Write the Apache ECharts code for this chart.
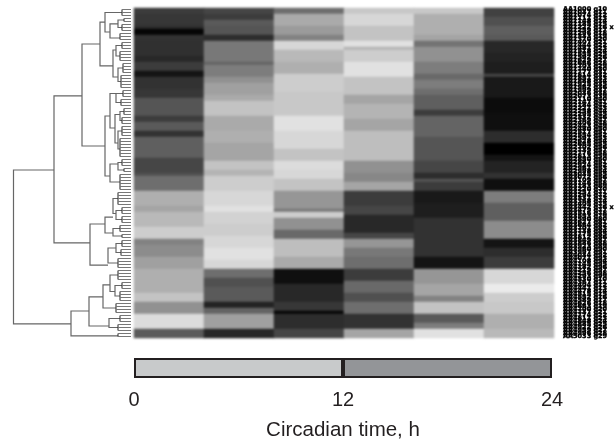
<!DOCTYPE html>
<html><head><meta charset="utf-8">
<style>html,body{margin:0;padding:0;background:#fff}#c{width:616px;height:441px}</style>
<script src="https://cdn.jsdelivr.net/npm/echarts@6/dist/echarts.min.js"></script>
</head><body><div id="c"></div>
<script>
// Heatmap bands: [number of rows, grey level 0-255], one list per time column
const col1 = [[2,60],[4,55],[1,45],[2,5],[2,50],[5,48],[2,40],[3,60],[2,20],[4,50],[3,55],[6,85],[2,60],[3,90],[2,50],[7,95],[5,70],[1,80],[5,110],[5,175],[2,165],[5,185],[4,205],[2,130],[4,140],[4,160],[8,175],[3,195],[4,145],[5,220],[3,90]];
const col2 = [[2,70],[2,60],[2,90],[3,85],[2,45],[7,120],[1,100],[4,125],[2,145],[4,160],[2,170],[5,195],[5,170],[4,175],[6,165],[3,195],[2,180],[5,205],[5,215],[2,225],[4,210],[4,205],[4,215],[4,225],[3,215],[3,110],[3,80],[5,90],[2,35],[2,100],[5,160],[3,40]];
const col3 = [[2,110],[4,170],[3,155],[2,130],[3,215],[4,185],[4,175],[6,205],[8,200],[5,225],[6,215],[4,195],[3,220],[3,215],[4,195],[6,150],[1,120],[2,205],[4,145],[3,105],[6,190],[4,170],[5,15],[6,40],[3,55],[1,5],[5,45],[3,70]];
const col4 = [[2,200],[4,215],[5,195],[2,225],[1,180],[4,205],[5,225],[6,195],[3,165],[5,180],[4,165],[10,190],[4,145],[3,135],[3,165],[5,60],[3,70],[6,40],[2,70],[3,150],[3,120],[4,110],[4,60],[4,105],[3,80],[4,110],[5,50],[3,165]];
const col5 = [[2,200],[7,175],[2,165],[2,115],[5,145],[4,125],[2,105],[3,125],[2,110],[5,95],[2,60],[7,100],[8,85],[4,70],[2,45],[1,85],[3,60],[4,25],[5,30],[7,50],[6,50],[4,20],[5,150],[4,165],[2,130],[4,195],[3,90],[2,125],[3,225]];
const col6 = [[3,65],[3,80],[3,95],[2,90],[4,40],[3,35],[4,30],[1,70],[7,25],[5,12],[6,15],[4,45],[4,0],[2,20],[4,35],[2,50],[4,15],[4,125],[6,95],[6,140],[3,20],[3,45],[4,60],[5,215],[3,235],[3,205],[4,200],[5,175],[3,185]];
const columnBands = [col1,col2,col3,col4,col5,col6];
const timeColumns = ['CT2','CT6','CT10','CT14','CT18','CT22'];
// Dendrogram merges: [merge height, row A, child height A, row B, child height B]
const merges = [
 [13.5,54,54,105.3,71],[54,29.3,82,78.3,90],[82,12,100,46,105],[100,4.7,105,19.3,113],
 [105,1.5,122,8,110],[110,5.3,118,10,120],[118,4,124,6.5,122],
 [113,14,116,23,118],[116,12.5,122,16,120],[118,20,123,24.5,121],
 [105,36,110,56,110],[110,28.5,116,40,115],[116,28.5,123,31.5,121],[115,35.5,120,45,118],[120,34.5,124,37.5,122],[118,41,122,47,120],
 [110,52,118,58,120],[118,51.5,122,54,124],
 [90,72,105,85.7,108],[105,69.7,113,75,113],[113,63.5,118,68.5,116],[116,67.5,122,70.5,122],[113,73.5,120,76,122],
 [108,80,116,85,118],[116,78.5,122,81.5,121],
 [71,101,89,109.3,118],[89,96.3,103,106,109],[103,92.3,110,100,116],[110,89,118,94.5,115],[115,92.5,122,96,120],[109,103.5,120,106.5,118]
];
// Leaf groups: [spine height, first row, end row]
const leafGroups = [[122,0,3],[124,3,5],[122,5,8],[120,8,11],[122,11,14],[120,14,18],[123,18,22],[121,22,27],[123,27,30],[121,30,33],[124,33,36],[122,36,39],[122,39,43],[120,43,50],[122,50,53],[124,53,55],[120,55,61],[118,61,66],[122,66,69],[122,69,72],[120,72,75],[122,75,77],[122,77,80],[121,80,83],[118,83,87],[118,87,91],[122,91,94],[120,94,98],[116,98,102],[120,102,105],[118,105,108],[118,108,110]];
const leafEnd = 131;
// Gene labels on the right are illegible in the reference: placeholders
const geneLabels = Array.from({length:110},(_,i)=>'AA'+(1000+i*37)+' g'+(10+i%90)+(i===6||i===66?' x':''));
// Lighting bar
const lightPhase = [12];
const darkPhase = [12];
const hourTicks = [0,12,24];
const xTitle = 'Circadian time, h';

const cells = [];
columnBands.forEach((bands,c)=>{let r=0;bands.forEach(([n,v])=>{for(let k=0;k<n;k++){cells.push([c,r,v]);r++;}});});

const chart = echarts.init(document.getElementById('c'),null,{renderer:'canvas'});
const LINE = '#666666';
chart.setOption({
 animation:false,
 textStyle:{fontFamily:'"Liberation Sans",Arial,sans-serif'},
 visualMap:{show:false,type:'continuous',min:0,max:255,dimension:2,seriesIndex:0,inRange:{color:['#000000','#ffffff']}},
 grid:[
  {left:134,top:8,width:420,height:330,outerBoundsMode:'none'},
  {left:0,top:8,width:134,height:330,outerBoundsMode:'none'},
  {left:134,top:358,width:418,height:20,outerBoundsMode:'none'}
 ],
 xAxis:[
  {gridIndex:0,type:'category',data:timeColumns,show:false},
  {gridIndex:1,type:'value',min:0,max:134,show:false},
  {gridIndex:2,type:'value',min:0,max:24,interval:12,
   axisLine:{show:false},axisTick:{show:false},splitLine:{show:false},
   axisLabel:{fontSize:20,color:'#231f20',margin:12,formatter:v=>hourTicks.includes(v)?String(v):''},
   name:xTitle,nameLocation:'middle',nameGap:42,nameTextStyle:{fontSize:20.5,color:'#231f20'}}
 ],
 yAxis:[
  {gridIndex:0,type:'category',data:geneLabels,inverse:true,position:'right',
   axisLine:{show:false},axisTick:{show:false},splitLine:{show:false},
   axisLabel:{show:true,interval:0,fontSize:6.5,fontWeight:'bold',fontFamily:'"DejaVu Sans"',color:'#000',margin:9,align:'left',textBorderColor:'#000',textBorderWidth:0.35}},
  {gridIndex:1,type:'value',min:0,max:110,inverse:true,show:false},
  {gridIndex:2,type:'category',data:['light'],show:false}
 ],
 series:[
  {type:'heatmap',zlevel:1,xAxisIndex:0,yAxisIndex:0,data:cells,itemStyle:{borderWidth:0},emphasis:{disabled:true},progressive:0},
  {type:'custom',zlevel:2,xAxisIndex:1,yAxisIndex:1,data:merges,clip:false,silent:true,
   renderItem:(p,api)=>{
    const a=api.coord([api.value(2),api.value(1)]),b=api.coord([api.value(0),api.value(1)]),
          c=api.coord([api.value(0),api.value(3)]),d=api.coord([api.value(4),api.value(3)]);
    return {type:'polyline',shape:{points:[a,b,c,d]},style:{fill:null,stroke:LINE,lineWidth:1.2}};
   }},
  {type:'custom',zlevel:2,xAxisIndex:1,yAxisIndex:1,data:leafGroups,clip:false,silent:true,
   renderItem:(p,api)=>{
    const h=api.value(0),r0=api.value(1),r1=api.value(2),kids=[];
    kids.push({type:'line',shape:{x1:api.coord([h,r0+.5])[0],y1:api.coord([h,r0+.5])[1],x2:api.coord([h,r1-.5])[0],y2:api.coord([h,r1-.5])[1]},style:{stroke:'#333',lineWidth:1.1}});
    for(let r=r0;r<r1;r++){const s=api.coord([h,r+.5]),e=api.coord([leafEnd,r+.5]);
     kids.push({type:'line',shape:{x1:s[0],y1:s[1],x2:e[0],y2:e[1]},style:{stroke:'#777',lineWidth:1}});}
    return {type:'group',children:kids};
   }},
  {type:'bar',xAxisIndex:2,yAxisIndex:2,stack:'day',data:lightPhase,barWidth:'100%',silent:true,
   itemStyle:{color:'#c8cacb',borderColor:'#231f20',borderWidth:2}},
  {type:'bar',xAxisIndex:2,yAxisIndex:2,stack:'day',data:darkPhase,barWidth:'100%',silent:true,
   itemStyle:{color:'#939598',borderColor:'#231f20',borderWidth:2}}
 ]
});
// The reference's upper panel is a soft, low-resolution scan: soften only those layers
const layers = document.querySelectorAll('#c canvas');
if (layers[1]) layers[1].style.filter = 'blur(0.8px)';
if (layers[2]) layers[2].style.filter = 'blur(0.35px)';
</script></body></html>
